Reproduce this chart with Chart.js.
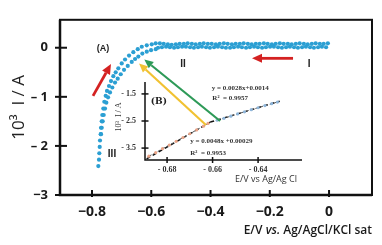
<!DOCTYPE html>
<html>
<head>
<meta charset="utf-8">
<script src="https://cdn.jsdelivr.net/npm/chart.js@4.4.1/dist/chart.umd.min.js"></script>
<style>
  html, body { margin: 0; padding: 0; background: #fff; }
  #wrap { position: relative; width: 382px; height: 245px; overflow: hidden; }
  canvas { position: absolute; left: 0; top: 0; }
  #inset { pointer-events: none; }
  #xtitle { position: absolute; right: 10px; top: 221px; font: 600 12px "Open Sans", sans-serif; color: #1a1a1a; white-space: nowrap; }
</style>
</head>
<body>
<div id="wrap">
  <canvas id="main" width="382" height="245"></canvas>
  <canvas id="inset" width="382" height="245"></canvas>
  <div id="xtitle">E/V <i>vs.</i> Ag/AgCl/KCl sat</div>
</div>
<script>
'use strict';

// (A) voltammogram, E in V, 10^3 I in A
const outerE = [-0.7787, -0.7764, -0.7753, -0.7740, -0.7730, -0.7706, -0.7696, -0.7672, -0.7652, -0.7618, -0.7584, -0.7537, -0.7493,
  -0.7426, -0.7358, -0.7280, -0.7200, -0.7111, -0.6997, -0.6885, -0.6750, -0.6605, -0.6456, -0.6320, -0.6152, -0.5983];
const outerI = [-2.41, -2.28, -2.15, -2.02, -1.89, -1.76, -1.63, -1.50, -1.37, -1.24, -1.10, -0.98, -0.88,
  -0.78, -0.68, -0.58, -0.50, -0.42, -0.32, -0.24, -0.16, -0.09, -0.03, 0.02, 0.05, 0.07];
const innerE = [-0.7696, -0.7672, -0.7639, -0.7605, -0.7561, -0.7517, -0.7459, -0.7392, -0.7314, -0.7223, -0.7132,
  -0.7030, -0.6919, -0.6794, -0.6659, -0.6547, -0.6436, -0.6301, -0.6152, -0.6007, -0.5848];
const innerI = [-1.76, -1.63, -1.50, -1.37, -1.24, -1.12, -1.01, -0.91, -0.81, -0.71, -0.63,
  -0.54, -0.45, -0.37, -0.29, -0.23, -0.18, -0.12, -0.08, -0.05, -0.03];
const upperE = [-0.585, -0.571, -0.558, -0.544, -0.531, -0.517, -0.504, -0.490, -0.477, -0.463, -0.450, -0.436, -0.423, -0.409,
  -0.396, -0.382, -0.369, -0.355, -0.342, -0.328, -0.315, -0.301, -0.288, -0.274, -0.261, -0.247, -0.234, -0.220, -0.207,
  -0.193, -0.180, -0.166, -0.153, -0.139, -0.126, -0.112, -0.099, -0.085, -0.072, -0.058, -0.045, -0.031, -0.018, -0.004];
const upperI = [0.09, 0.09, 0.08, 0.07, 0.06, 0.07, 0.08, 0.08, 0.09, 0.08, 0.07, 0.08, 0.09, 0.08,
  0.08, 0.07, 0.08, 0.09, 0.08, 0.07, 0.08, 0.08, 0.09, 0.08, 0.07, 0.08, 0.08, 0.09, 0.08,
  0.07, 0.08, 0.09, 0.08, 0.08, 0.07, 0.08, 0.09, 0.08, 0.07, 0.08, 0.09, 0.08, 0.08, 0.09];
const lowerE = [-0.577, -0.564, -0.550, -0.537, -0.523, -0.510, -0.496, -0.483, -0.469, -0.456, -0.442, -0.429, -0.415, -0.402,
  -0.388, -0.375, -0.361, -0.348, -0.334, -0.321, -0.307, -0.294, -0.280, -0.267, -0.253, -0.240, -0.226, -0.213, -0.199,
  -0.186, -0.172, -0.159, -0.145, -0.132, -0.118, -0.105, -0.091, -0.078, -0.064, -0.051, -0.037, -0.024, -0.010];
const lowerI = [0.00, 0.01, 0.02, 0.01, 0.00, 0.01, 0.02, 0.02, 0.01, 0.00, 0.01, 0.02, 0.01, 0.00,
  0.01, 0.02, 0.01, 0.00, 0.00, 0.01, 0.02, 0.01, 0.00, 0.01, 0.02, 0.01, 0.00, 0.01, 0.02,
  0.02, 0.01, 0.00, 0.01, 0.02, 0.01, 0.00, 0.01, 0.02, 0.01, 0.00, 0.01, 0.02, 0.01];

const xTicks = [-0.8, -0.6, -0.4, -0.2, 0];
const xTickLabels = ['\u22120.8', '\u22120.6', '\u22120.4', '\u22120.2', '0'];
const yTicks = [0, -1, -2, -3];
const yTickLabels = ['0', '\u2013 1', '\u2013 2', '\u22123'];

// (B) inset: linear regions
const ptsLowE = [-0.688, -0.685, -0.682, -0.679, -0.676, -0.673, -0.670, -0.667, -0.664, -0.662];
const ptsLowI = [-3.80, -3.67, -3.52, -3.39, -3.25, -3.11, -2.97, -2.83, -2.69, -2.59];
const ptsHighE = [-0.658, -0.655, -0.652, -0.649, -0.646, -0.643, -0.640, -0.637, -0.634, -0.6315];
const ptsHighI = [-2.47, -2.40, -2.32, -2.24, -2.16, -2.08, -2.01, -1.93, -1.86, -1.80];
const fitLowE = [-0.6890, -0.6610];
const fitLowI = [-3.90, -2.54];
const fitHighE = [-0.6610, -0.6305];
const fitHighI = [-2.54, -1.77];

const insetXTicks = [-0.68, -0.66, -0.64];
const insetXTickLabels = ['- 0.68', '- 0.66', '- 0.64'];
const insetYTicks = [-1.5, -2.5, -3.5];
const insetYTickLabels = ['- 1.5', '- 2.5', '- 3.5'];

const DOT = '#2b9fd3';
const pts = (xs, ys) => xs.map((x, i) => ({ x, y: ys[i] }));

function arrow(ctx, x1, y1, x2, y2, color, lw, hl, hw) {
  const a = Math.atan2(y2 - y1, x2 - x1);
  const bx = x2 - hl * Math.cos(a), by = y2 - hl * Math.sin(a);
  ctx.save();
  ctx.strokeStyle = color; ctx.fillStyle = color; ctx.lineWidth = lw;
  ctx.beginPath(); ctx.moveTo(x1, y1); ctx.lineTo(bx, by); ctx.stroke();
  ctx.beginPath();
  ctx.moveTo(x2, y2);
  ctx.lineTo(bx + hw / 2 * Math.sin(a), by - hw / 2 * Math.cos(a));
  ctx.lineTo(bx - hw / 2 * Math.sin(a), by + hw / 2 * Math.cos(a));
  ctx.closePath(); ctx.fill();
  ctx.restore();
}

const mainDeco = {
  id: 'mainDeco',
  afterDraw(chart) {
    const { ctx, chartArea: a, scales: { x, y } } = chart;
    ctx.save();
    ctx.strokeStyle = '#111';
    ctx.lineWidth = 2;
    ctx.strokeRect(a.left, a.top, a.right - a.left, a.bottom - a.top);
    ctx.lineWidth = 2.5;
    ctx.beginPath();
    ctx.moveTo(a.left, a.top); ctx.lineTo(a.left, a.bottom); ctx.lineTo(a.right, a.bottom);
    ctx.stroke();
    ctx.lineWidth = 2;
    yTicks.forEach(v => {
      const py = y.getPixelForValue(v);
      ctx.beginPath(); ctx.moveTo(a.left - 5, py); ctx.lineTo(a.left + 7, py); ctx.stroke();
    });
    xTicks.forEach(v => {
      const px = x.getPixelForValue(v);
      ctx.beginPath(); ctx.moveTo(px, a.bottom - 5); ctx.lineTo(px, a.bottom + 2); ctx.stroke();
    });
    ctx.fillStyle = '#222';
    ctx.textAlign = 'center'; ctx.textBaseline = 'middle';
    ctx.font = 'bold 9px "Liberation Sans"';
    ctx.fillText('(A)', x.getPixelForValue(-0.763), y.getPixelForValue(-0.02));
    ctx.font = 'bold 10px "Liberation Sans"';
    ctx.fillText('II', x.getPixelForValue(-0.493), y.getPixelForValue(-0.33));
    ctx.fillText('I', x.getPixelForValue(-0.0675), y.getPixelForValue(-0.33));
    ctx.fillText('III', x.getPixelForValue(-0.7325), y.getPixelForValue(-2.18));
    ctx.restore();
    arrow(ctx, x.getPixelForValue(-0.7966), y.getPixelForValue(-0.98), x.getPixelForValue(-0.7359), y.getPixelForValue(-0.333), '#d42222', 2.8, 10, 9);
    arrow(ctx, x.getPixelForValue(-0.1215), y.getPixelForValue(-0.216), x.getPixelForValue(-0.26), y.getPixelForValue(-0.216), '#d42222', 2.8, 10, 9);
  }
};

const dotSet = d => Object.assign(d, { pointRadius: 2.1, pointBackgroundColor: DOT, pointBorderWidth: 0, showLine: false });

const mainChart = new Chart(document.getElementById('main'), {
  type: 'scatter',
  data: {
    datasets: [
      { data: pts(outerE, outerI) },
      { data: pts(innerE, innerI) },
      { data: pts(upperE, upperI) },
      { data: pts(lowerE, lowerI) }
    ].map(dotSet)
  },
  options: {
    responsive: false, animation: false, devicePixelRatio: 1,
    layout: { padding: { top: 13, right: 10, left: 0, bottom: 0 } },
    plugins: { legend: { display: false }, tooltip: { enabled: false } },
    scales: {
      x: {
        type: 'linear', min: -0.908, max: 0.145,
        afterBuildTicks: s => { s.ticks = xTicks.map(v => ({ value: v })); },
        afterFit: s => { s.height = 50; },
        grid: { display: false, drawTicks: false }, border: { display: false },
        ticks: { padding: 9, color: '#1a1a1a', font: { family: 'Open Sans', size: 14, weight: 'bold' }, callback: (v, i) => xTickLabels[i] }
      },
      y: {
        type: 'linear', min: -3, max: 0.569,
        afterBuildTicks: s => { s.ticks = yTicks.map(v => ({ value: v })); },
        afterFit: s => { s.width = 60; },
        grid: { display: false, drawTicks: false }, border: { display: false },
        ticks: { padding: 12, color: '#1a1a1a', font: { family: 'Open Sans', size: 13, weight: 'bold' }, callback: (v, i) => yTickLabels[i] },
        title: { display: true, text: '10\u00b3  I / A', color: '#222', font: { family: 'Open Sans', size: 17 }, padding: { top: 9, bottom: 0 } }
      }
    }
  },
  plugins: [mainDeco]
});

const insetDeco = {
  id: 'insetDeco',
  afterDraw(chart) {
    const { ctx, chartArea: a, scales: { x, y } } = chart;
    const mx = mainChart.scales.x, my = mainChart.scales.y;
    ctx.save();
    ctx.strokeStyle = '#111'; ctx.lineWidth = 1.5;
    ctx.beginPath(); ctx.moveTo(a.left, a.top); ctx.lineTo(a.left, a.bottom); ctx.lineTo(a.right, a.bottom); ctx.stroke();
    insetYTicks.forEach(v => {
      const py = y.getPixelForValue(v);
      ctx.beginPath(); ctx.moveTo(a.left - 3.5, py); ctx.lineTo(a.left + 3.5, py); ctx.stroke();
    });
    insetXTicks.forEach(v => {
      const px = x.getPixelForValue(v);
      ctx.beginPath(); ctx.moveTo(px, a.bottom - 3); ctx.lineTo(px, a.bottom + 3); ctx.stroke();
    });
    ctx.fillStyle = '#333';
    ctx.textBaseline = 'middle';
    ctx.textAlign = 'center';
    ctx.font = '9px "Open Sans"';
    ctx.fillText('E/V vs Ag/Ag Cl', a.right - 36, a.bottom + 19);
    ctx.font = 'bold 9px "DejaVu Serif"';
    ctx.fillStyle = '#222';
    ctx.fillText('(B)', x.getPixelForValue(-0.6836), y.getPixelForValue(-1.77));
    ctx.textAlign = 'left';
    ctx.font = 'bold 7px "Liberation Serif"';
    ctx.fillStyle = '#333';
    ctx.fillText('y = 0.0028x+0.0014', x.getPixelForValue(-0.6604), y.getPixelForValue(-1.29));
    ctx.fillText('R\u00b2  = 0.9957', x.getPixelForValue(-0.6601), y.getPixelForValue(-1.66));
    ctx.fillText('y = 0.0048x +0.00029', x.getPixelForValue(-0.6698), y.getPixelForValue(-3.25));
    ctx.fillText('R\u00b2  = 0.9953', x.getPixelForValue(-0.6698), y.getPixelForValue(-3.67));
    ctx.save();
    ctx.translate(a.left - 26, y.getPixelForValue(-2.35));
    ctx.rotate(-Math.PI / 2);
    ctx.textAlign = 'center';
    ctx.font = '8px "Liberation Serif"';
    ctx.fillText('10\u00b3  I / A', 0, 0);
    ctx.restore();
    ctx.restore();
    arrow(ctx, x.getPixelForValue(-0.6629), y.getPixelForValue(-2.65), mx.getPixelForValue(-0.6413), my.getPixelForValue(-0.32), '#f1c232', 2.2, 9, 8);
    arrow(ctx, x.getPixelForValue(-0.6567), y.getPixelForValue(-2.50), mx.getPixelForValue(-0.6235), my.getPixelForValue(-0.241), '#2e9a58', 2.2, 9, 8);
  }
};

new Chart(document.getElementById('inset'), {
  type: 'scatter',
  data: {
    datasets: [
      { data: pts(ptsLowE, ptsLowI), showLine: true, borderColor: '#555', borderWidth: 1, borderDash: [3, 2], pointRadius: 1.6, pointBackgroundColor: '#e9a488', pointBorderWidth: 0 },
      { data: pts(ptsHighE, ptsHighI), showLine: true, borderColor: '#555', borderWidth: 1, borderDash: [3, 2], pointRadius: 1.6, pointBackgroundColor: '#8fb6da', pointBorderWidth: 0 },
      { data: pts(fitLowE, fitLowI), showLine: true, borderColor: '#111', borderWidth: 1.5, borderDash: [4, 3], pointRadius: 0 },
      { data: pts(fitHighE, fitHighI), showLine: true, borderColor: '#111', borderWidth: 1.5, borderDash: [4, 3], pointRadius: 0 }
    ]
  },
  options: {
    responsive: false, animation: false, devicePixelRatio: 1,
    layout: { padding: { top: 82, right: 80, left: 0, bottom: 0 } },
    plugins: { legend: { display: false }, tooltip: { enabled: false } },
    scales: {
      x: {
        type: 'linear', min: -0.6897, max: -0.6207,
        afterBuildTicks: s => { s.ticks = insetXTicks.map(v => ({ value: v })); },
        afterFit: s => { s.height = 85; },
        grid: { display: false, drawTicks: false }, border: { display: false },
        ticks: { padding: 5, color: '#333', font: { family: 'Liberation Serif', size: 8, weight: 'bold' }, callback: (v, i) => insetXTickLabels[i] }
      },
      y: {
        type: 'linear', min: -3.94, max: -1.06,
        afterBuildTicks: s => { s.ticks = insetYTicks.map(v => ({ value: v })); },
        afterFit: s => { s.width = 145; },
        grid: { display: false, drawTicks: false }, border: { display: false },
        ticks: { padding: 9, color: '#333', font: { family: 'Liberation Serif', size: 8, weight: 'bold' }, callback: (v, i) => insetYTickLabels[i] }
      }
    }
  },
  plugins: [insetDeco]
});
</script>
</body>
</html>
